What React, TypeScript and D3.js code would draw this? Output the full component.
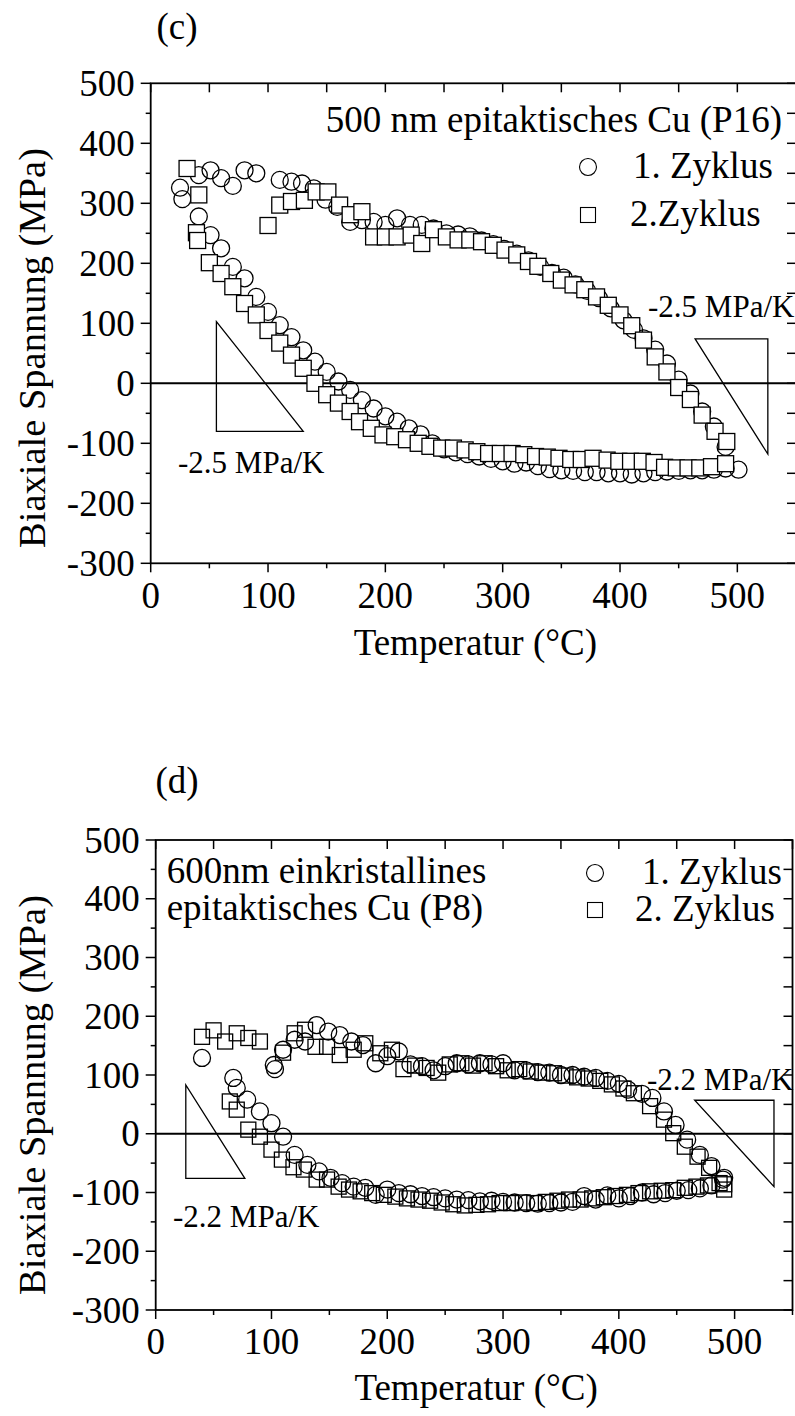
import React from "react";
import * as d3 from "d3";

const FONT = "'Liberation Serif', 'Times New Roman', serif";

const xTickValues = [0, 100, 200, 300, 400, 500];
const yTickValues = [-300, -200, -100, 0, 100, 200, 300, 400, 500];

// Panel (c): 500 nm epitaktisches Cu (P16)
const cZyklus1: [number, number][] = [
  [25, 326], [27, 307], [41, 278], [51, 247], [60, 225], [70, 194], [80, 175], [90, 144],
  [100, 119], [110, 97], [120, 77], [130, 55], [140, 36], [150, 19], [160, 3], [170, -11],
  [180, -28], [190, -42], [200, -55], [210, -64], [220, -75], [230, -85], [240, -100],
  [250, -110], [260, -115], [270, -118], [280, -122], [290, -126], [300, -130], [310, -134],
  [320, -132], [330, -138], [340, -143], [350, -145], [360, -146], [370, -148], [380, -148],
  [390, -150], [400, -150], [410, -152], [420, -150], [430, -148], [440, -147], [450, -146],
  [460, -145], [470, -145], [480, -144], [490, -142], [501, -144],
  [41, 347], [51, 355], [60, 342], [70, 329], [80, 355], [90, 350], [110, 339], [120, 336],
  [129, 333], [139, 325], [149, 306], [159, 294], [170, 269], [180, 272], [190, 269],
  [200, 264], [210, 275], [221, 264], [231, 264], [241, 258], [252, 250], [262, 248],
  [272, 245], [282, 238], [292, 232], [301, 224], [312, 216], [322, 205], [332, 194],
  [342, 184], [352, 176], [362, 165], [372, 154], [382, 142], [392, 125], [403, 105],
  [412, 89], [420, 75], [430, 56], [440, 33], [450, 6], [460, -17], [470, -47], [480, -72],
  [490, -106],
];
const cZyklus2: [number, number][] = [
  [31, 358], [41, 314], [39, 251], [40, 238], [50, 201], [60, 183], [70, 161], [80, 133],
  [90, 114], [100, 88], [110, 67], [120, 47], [130, 25], [140, 0], [150, -19], [160, -33],
  [170, -47], [178, -64], [188, -75], [198, -86], [208, -89], [218, -94], [228, -100],
  [238, -105], [248, -108], [258, -108], [268, -111], [278, -114], [288, -117], [298, -117],
  [308, -117], [318, -119], [328, -122], [338, -123], [348, -125], [358, -127], [367, -127],
  [377, -125], [389, -128], [399, -130], [409, -130], [419, -130], [429, -132], [438, -140],
  [448, -141], [458, -141], [468, -141], [478, -139], [490, -134],
  [100, 263], [110, 297], [120, 303], [131, 305], [141, 319], [151, 319], [161, 297],
  [170, 281], [180, 286], [190, 244], [200, 244], [210, 244], [222, 247], [231, 233],
  [241, 256], [252, 244], [262, 239], [272, 239], [282, 236], [292, 230], [302, 222],
  [312, 214], [322, 203], [330, 195], [341, 183], [350, 172], [360, 164], [370, 156],
  [380, 144], [390, 130], [400, 114], [410, 96], [420, 72], [430, 44], [440, 19], [450, -7],
  [460, -27], [470, -53], [481, -80], [491, -97],
];

// Panel (d): 600nm einkristallines epitaktisches Cu (P8)
const dZyklus1: [number, number][] = [
  [40, 129], [67, 95], [70, 78], [79, 58], [90, 38], [100, 18], [110, -5], [120, -36],
  [131, -53], [141, -64], [151, -75], [161, -84], [171, -90], [181, -92], [190, -104],
  [200, -95], [210, -101], [220, -103], [230, -106], [240, -108], [250, -110], [260, -112],
  [270, -113], [280, -115], [290, -114], [300, -116], [310, -117], [320, -118], [330, -119],
  [340, -118], [350, -117], [360, -116], [370, -106], [380, -112], [390, -105], [400, -110],
  [410, -106], [420, -100], [430, -103], [440, -101], [450, -97], [460, -96], [470, -93],
  [480, -88], [490, -78],
  [102, 117], [103, 110], [110, 143], [120, 160], [129, 157], [139, 185], [149, 174],
  [159, 168], [169, 157], [179, 151], [190, 120], [200, 132], [210, 140], [220, 118],
  [230, 115], [240, 108], [250, 115], [260, 120], [270, 118], [280, 120], [290, 118],
  [300, 120], [310, 108], [320, 108], [330, 105], [340, 104], [350, 100], [360, 100],
  [370, 97], [380, 95], [390, 90], [400, 85], [408, 75], [420, 68], [429, 61], [439, 38],
  [449, 15], [459, -10], [470, -36], [480, -55], [491, -75],
];
const dZyklus2: [number, number][] = [
  [40, 165], [50, 176], [60, 157], [70, 171], [80, 163], [90, 157], [110, 138], [120, 171],
  [129, 177], [138, 148], [148, 148], [159, 134], [171, 143], [181, 154], [194, 137],
  [204, 143], [214, 110], [224, 116], [234, 112], [244, 104], [254, 118], [264, 120],
  [274, 116], [284, 120], [294, 115], [304, 108], [314, 110], [324, 106], [334, 104],
  [344, 103], [354, 99], [364, 96], [374, 94], [384, 90], [394, 84], [404, 77], [413, 69],
  [427, 47], [439, 24], [447, 1], [457, -22], [468, -39], [478, -58], [491, -86],
  [64, 55], [70, 41], [80, 7], [90, -5], [100, -27], [109, -44], [119, -57], [128, -61],
  [139, -78], [148, -78], [158, -90], [167, -95], [177, -98], [187, -101], [197, -104],
  [207, -107], [217, -110], [227, -112], [237, -114], [247, -117], [257, -120], [267, -122],
  [277, -121], [287, -120], [297, -118], [307, -118], [317, -117], [327, -118], [337, -116],
  [347, -114], [357, -112], [367, -112], [377, -110], [387, -108], [397, -106], [407, -104],
  [417, -101], [427, -98], [437, -97], [447, -96], [457, -92], [467, -90], [477, -88],
  [487, -84], [491, -95],
];

const cTriangles: [number, number][][] = [
  [[56, 103], [56, -80], [130, -80]],
  [[464, 74], [526, 74], [526, -118]],
];
const dTriangles: [number, number][][] = [
  [[26, 83], [26, -76], [77, -76]],
  [[465.5, 57], [534, 57], [534, -90]],
];

type Cfg = {
  left: number; right: number; top: number; bottom: number;
  c1: [number, number][]; c2: [number, number][];
  tri: [number, number][][];
  panel: string; panelX: number; panelY: number;
  titleLines: { t: string; x: number; y: number; anchor: string }[];
  leg1: { x: number; y: number; tx: number; t: string };
  leg2: { x: number; y: number; tx: number; t: string };
  slopeL: { t: string; x: number; y: number };
  slopeR: { t: string; x: number; y: number };
  ylabY: number;
  xlabY: number; xtickY: number;
  sq: number; squaresOnTop: boolean;
};

const cCfg: Cfg = {
  left: 150.7, right: 796, top: 83.3, bottom: 563.3,
  c1: cZyklus1, c2: cZyklus2, tri: cTriangles,
  panel: "(c)", panelX: 177, panelY: 38.5,
  titleLines: [{ t: "500 nm epitaktisches Cu (P16)", x: 782, y: 132, anchor: "end" }],
  leg1: { x: 588, y: 167, tx: 633, t: "1. Zyklus" },
  leg2: { x: 588, y: 215, tx: 630, t: "2.Zyklus" },
  slopeL: { t: "-2.5 MPa/K", x: 178, y: 473 },
  slopeR: { t: "-2.5 MPa/K", x: 648, y: 317 },
  ylabY: 348,
  xlabY: 655, xtickY: 608,
  sq: 16, squaresOnTop: true,
};

const dCfg: Cfg = {
  left: 155.7, right: 792.5, top: 840, bottom: 1310,
  c1: dZyklus1, c2: dZyklus2, tri: dTriangles,
  panel: "(d)", panelX: 177, panelY: 793,
  titleLines: [
    { t: "600nm einkristallines", x: 166.7, y: 883, anchor: "start" },
    { t: "epitaktisches Cu (P8)", x: 166.7, y: 920, anchor: "start" },
  ],
  leg1: { x: 595, y: 873, tx: 642, t: "1. Zyklus" },
  leg2: { x: 595, y: 910, tx: 635, t: "2. Zyklus" },
  slopeL: { t: "-2.2 MPa/K", x: 173, y: 1227 },
  slopeR: { t: "-2.2 MPa/K", x: 647, y: 1090 },
  ylabY: 1095,
  xlabY: 1400, xtickY: 1354,
  sq: 15, squaresOnTop: false,
};

function Panel({ cfg }: { cfg: Cfg }) {
  const x = d3.scaleLinear().domain([0, 550]).range([cfg.left, cfg.right]);
  const y = d3.scaleLinear().domain([-300, 500]).range([cfg.bottom, cfg.top]);
  const xMinor = d3.range(0, 551, 50);
  const yMinor = d3.range(-300, 501, 50);
  const line = d3.line<[number, number]>().x((d) => x(d[0])).y((d) => y(d[1]));
  const r = 8.5;
  const s = cfg.sq;
  const circles = (
    <g>
      {cfg.c1.map((d, i) => (
        <circle key={"c" + i} cx={x(d[0])} cy={y(d[1])} r={r} fill="none" stroke="#000" strokeWidth={1.3} />
      ))}
    </g>
  );
  const squares = (
    <g>
      {cfg.c2.map((d, i) => (
        <rect key={"s" + i} x={x(d[0]) - s / 2} y={y(d[1]) - s / 2} width={s} height={s}
          fill={cfg.squaresOnTop ? "#fff" : "none"} stroke="#000" strokeWidth={1.3} />
      ))}
    </g>
  );
  const fs = 37;
  return (
    <g fontFamily={FONT} fill="#000">
      <text x={cfg.panelX} y={cfg.panelY} fontSize={37} textAnchor="middle">{cfg.panel}</text>
      <line x1={x(0)} x2={x(550)} y1={y(0)} y2={y(0)} stroke="#000" strokeWidth={2} />
      {cfg.tri.map((t, i) => (
        <path key={"t" + i} d={line(t) + "Z"} fill="none" stroke="#000" strokeWidth={1.3} />
      ))}
      {cfg.squaresOnTop ? circles : squares}
      {cfg.squaresOnTop ? squares : circles}
      <rect x={cfg.left} y={cfg.top} width={cfg.right - cfg.left} height={cfg.bottom - cfg.top}
        fill="none" stroke="#000" strokeWidth={1.8} />
      {xMinor.map((v) => (
        <line key={"bx" + v} x1={x(v)} x2={x(v)} y1={cfg.bottom} y2={cfg.bottom + (v % 100 === 0 ? 9 : 5)} stroke="#000" strokeWidth={1.5} />
      ))}
      {xMinor.map((v) => (
        <line key={"tx" + v} x1={x(v)} x2={x(v)} y1={cfg.top} y2={cfg.top + 9} stroke="#000" strokeWidth={1.5} />
      ))}
      {yMinor.map((v) => (
        <line key={"ly" + v} x1={cfg.left - (v % 100 === 0 ? 10 : 5)} x2={cfg.left} y1={y(v)} y2={y(v)} stroke="#000" strokeWidth={1.5} />
      ))}
      {yMinor.map((v) => (
        <line key={"ry" + v} x1={cfg.right - 9} x2={cfg.right} y1={y(v)} y2={y(v)} stroke="#000" strokeWidth={1.5} />
      ))}
      {xTickValues.map((v) => (
        <text key={"xl" + v} x={x(v)} y={cfg.xtickY} fontSize={fs} textAnchor="middle">{v}</text>
      ))}
      {yTickValues.map((v) => (
        <text key={"yl" + v} x={cfg.left - 16} y={y(v) + 12.5} fontSize={fs} textAnchor="end">{v}</text>
      ))}
      <text x={(cfg.left + cfg.right) / 2 + 2} y={cfg.xlabY} fontSize={fs} textAnchor="middle">Temperatur (°C)</text>
      <text transform={`translate(45,${cfg.ylabY}) rotate(-90)`} fontSize={38.5} textAnchor="middle">Biaxiale Spannung (MPa)</text>
      {cfg.titleLines.map((l, i) => (
        <text key={"tl" + i} x={l.x} y={l.y} fontSize={fs} textAnchor={l.anchor as any}>{l.t}</text>
      ))}
      <circle cx={cfg.leg1.x} cy={cfg.leg1.y} r={8.5} fill="none" stroke="#000" strokeWidth={1.1} />
      <text x={cfg.leg1.tx} y={cfg.leg1.y + 11} fontSize={fs}>{cfg.leg1.t}</text>
      <rect x={cfg.leg2.x - 7.5} y={cfg.leg2.y - 7.5} width={15} height={15} fill="none" stroke="#000" strokeWidth={1.1} />
      <text x={cfg.leg2.tx} y={cfg.leg2.y + 11} fontSize={fs}>{cfg.leg2.t}</text>
      <text x={cfg.slopeL.x} y={cfg.slopeL.y} fontSize={31}>{cfg.slopeL.t}</text>
      <text x={cfg.slopeR.x} y={cfg.slopeR.y} fontSize={31}>{cfg.slopeR.t}</text>
    </g>
  );
}

export default function App() {
  return (
    <svg width={795} height={1416} viewBox="0 0 795 1416"
      style={{ position: "absolute", left: 0, top: 0, display: "block", background: "#fff" }}>
      <rect x={0} y={0} width={795} height={1416} fill="#fff" />
      <Panel cfg={cCfg} />
      <Panel cfg={dCfg} />
    </svg>
  );
}
